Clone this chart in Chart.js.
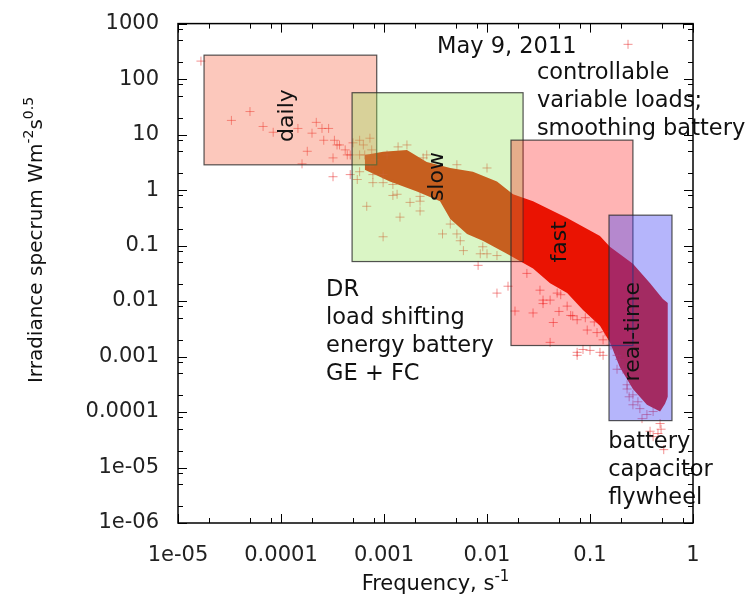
<!DOCTYPE html>
<html>
<head>
<meta charset="utf-8">
<script src="https://cdn.jsdelivr.net/npm/chart.js@4.4.0/dist/chart.umd.min.js"></script>
<style>
  html, body { margin: 0; padding: 0; background: #fff; }
</style>
</head>
<body>
<canvas id="chart" width="754" height="608"></canvas>
<script>
// axis ticks
const xTicks = [1e-5, 1e-4, 1e-3, 1e-2, 1e-1, 1];
const xTickLabels = ['1e-05', '0.0001', '0.001', '0.01', '0.1', '1'];
const yTicks = [1e-6, 1e-5, 1e-4, 1e-3, 1e-2, 1e-1, 1, 10, 100, 1000];
const yTickLabels = ['1e-06', '1e-05', '0.0001', '0.001', '0.01', '0.1', '1', '10', '100', '1000'];
const minorSteps = [2, 5, 8];

// loose points
const scatterX = [
  1.67e-5, 3.3e-5, 5.0e-5, 6.7e-5, 8.4e-5, 1.46e-4, 1.6e-4, 1.8e-4, 2.0e-4, 2.2e-4,
  2.5e-4, 2.6e-4, 2.9e-4, 3.2e-4, 3.2e-4, 3.3e-4, 3.5e-4, 3.7e-4, 4.2e-4, 4.4e-4,
  4.7e-4, 5.0e-4,
  4.7e-4, 5.5e-4, 5.8e-4, 6.3e-4, 6.5e-4, 6.8e-4, 7.3e-4, 7.3e-4, 7.6e-4, 7.8e-4,
  8.2e-4, 9.8e-4, 9.8e-4, 1.07e-3, 1.22e-3, 1.22e-3, 1.37e-3, 1.43e-3, 1.79e-3, 2.24e-3,
  2.24e-3, 2.6e-3, 3.7e-3, 4.4e-3, 5.1e-3, 5.5e-3, 5.9e-3, 8.2e-3, 8.6e-3, 0.01, 0.0125,
  5.8e-4, 5.8e-4, 7.8e-4, 9.8e-4, 1.34e-3, 2.24e-3, 1.67e-3, 2.4e-3, 5.1e-3, 9.1e-3,
  0.01, 0.0125,
  0.016, 0.0187, 0.0244, 0.028, 0.0327, 0.041, 0.041, 0.044, 0.060, 0.075,
  0.075, 0.094, 0.1, 0.0855, 0.125, 0.134, 0.035, 0.05, 0.065, 0.09,
  0.11, 0.14, 0.16, 0.052, 0.035, 0.048, 0.068, 0.075, 0.117, 0.134,
  0.183, 0.209,
  0.183, 0.195, 0.229, 0.24, 0.261, 0.292, 0.32, 0.383, 0.41, 0.457,
  0.479, 0.49, 0.52, 0.229, 0.261, 0.305, 0.357, 0.41
];
const scatterY = [
  211, 18, 26, 14, 11, 12.9, 2.97, 5.0, 10.6, 16.6,
  12.9, 7.9, 12.9, 1.74, 3.8, 7.9, 6.5, 6.5, 5.3, 4.3,
  4.3, 7.1,
  1.9, 1.55, 7.9, 6.5, 4.3, 0.51, 8.6, 2.63, 5.3, 1.36,
  3.5, 0.144, 1.9, 4.3, 0.80, 1.26, 6.0, 0.325, 0.60, 0.42,
  0.63, 4.3, 0.162, 0.244, 2.86, 0.122, 0.081, 0.044, 0.071, 2.5, 0.0139,
  4.3, 2.14, 1.9, 1.36, 0.84, 0.77, 6.5, 3.8, 0.162, 0.095,
  0.071, 0.066,
  0.0185, 0.0066, 0.0315, 0.0061, 0.0157, 0.0104, 0.0018, 0.0041, 0.0081, 0.0046,
  0.00119, 0.0030, 0.00129, 0.00134, 0.00119, 0.0020, 0.009, 0.0065, 0.0055, 0.005,
  0.0042, 0.0028, 0.0016, 0.013, 0.0104, 0.0139, 0.0054, 0.00105, 0.0027, 0.00105,
  0.00105, 5.9e-4,
  5.9e-4, 8.9e-4, 3.1e-4, 1.88e-4, 1.35e-4, 1.53e-4, 7.6e-5, 4.5e-5, 3.6e-5, 4.1e-5,
  6.2e-5, 4.9e-5, 2.1e-5, 2.6e-4, 2.04e-4, 1.15e-4, 9.0e-5, 1.02e-4
];

// edges of the dense cloud
const upperX = [6.5e-4, 9.8e-4, 1.67e-3, 2.6e-3, 4.4e-3, 7.3e-3, 0.0125, 0.0179, 0.028,
  0.060, 0.125, 0.156, 0.261, 0.383, 0.51, 0.57];
const upperY = [4.3, 4.9, 5.3, 3.2, 2.5, 2.14, 1.42, 0.84, 0.63,
  0.313, 0.149, 0.095, 0.047, 0.0209, 0.0109, 0.0092];
const lowerX = [6.5e-4, 1.14e-3, 2.09e-3, 3.5e-3, 4.4e-3, 6.4e-3, 9.1e-3, 0.0156, 0.028,
  0.041, 0.060, 0.0855, 0.125, 0.156, 0.195, 0.261, 0.357, 0.479, 0.535, 0.57];
const lowerY = [2.33, 1.42, 0.94, 0.63, 0.30, 0.162, 0.122, 0.071, 0.0386,
  0.0209, 0.0139, 0.0069, 0.0036, 0.0018, 6.4e-4, 2.6e-4, 1.35e-4, 1.02e-4, 1.41e-4, 1.88e-4];

// key sample
const keyX = [0.234];
const keyY = [423];

// shaded regions
const boxNames = ['daily', 'slow', 'fast', 'real-time'];
const boxX0 = [1.79e-5, 4.9e-4, 0.0171, 0.153];
const boxX1 = [8.5e-4, 0.0224, 0.261, 0.625];
const boxY0 = [2.85, 0.0515, 0.00158, 7.0e-5];
const boxY1 = [270, 56.8, 7.94, 0.353];
const boxFill = ['rgba(246,98,64,0.35)', 'rgba(150,225,90,0.35)', 'rgba(255,5,5,0.3)', 'rgba(70,70,245,0.4)'];
const boxLabelX = [1.14e-4, 3.3e-3, 0.051, 0.261];
const boxLabelY = [22, 1.75, 0.117, 0.0028];

// text notes
const notes = [
  ['May 9, 2011'],
  ['controllable', 'variable loads;', 'smoothing battery'],
  ['DR', 'load shifting', 'energy battery', 'GE + FC'],
  ['battery', 'capacitor', 'flywheel']
];
const noteX = [3.27e-3, 0.0305, 2.74e-4, 0.15];
const noteY = [292, 101, 0.0123, 2.23e-5];

const FONT = '"DejaVu Sans", sans-serif';

function toPoints(xs, ys) {
  return xs.map((v, i) => ({ x: v, y: ys[i] }));
}

function drawSupText(ctx, parts, x, y, size) {
  // parts: [text, isSup]
  let cx = x;
  parts.forEach(([t, sup]) => {
    ctx.font = sup ? `${Math.round(size * 0.7)}px ${FONT}` : `${size}px ${FONT}`;
    ctx.fillText(t, cx, sup ? y - size * 0.45 : y);
    cx += ctx.measureText(t).width;
  });
  return cx - x;
}

function measureSup(ctx, parts, size) {
  let w = 0;
  parts.forEach(([t, sup]) => {
    ctx.font = sup ? `${Math.round(size * 0.7)}px ${FONT}` : `${size}px ${FONT}`;
    w += ctx.measureText(t).width;
  });
  return w;
}

const overlayPlugin = {
  id: 'overlay',
  afterDatasetsDraw(chart) {
    const { ctx, scales: { x, y } } = chart;
    ctx.save();
    boxNames.forEach((name, i) => {
      const l = x.getPixelForValue(boxX0[i]);
      const r = x.getPixelForValue(boxX1[i]);
      const t = y.getPixelForValue(boxY1[i]);
      const b = y.getPixelForValue(boxY0[i]);
      ctx.fillStyle = boxFill[i];
      ctx.fillRect(l, t, r - l, b - t);
      ctx.strokeStyle = 'rgba(40,40,40,0.8)';
      ctx.lineWidth = 1.2;
      ctx.strokeRect(l, t, r - l, b - t);
    });
    ctx.fillStyle = '#111';
    ctx.font = `22px ${FONT}`;
    ctx.textAlign = 'center';
    ctx.textBaseline = 'middle';
    boxNames.forEach((name, i) => {
      ctx.save();
      ctx.translate(x.getPixelForValue(boxLabelX[i]), y.getPixelForValue(boxLabelY[i]));
      ctx.rotate(-Math.PI / 2);
      ctx.fillText(name, 0, 0);
      ctx.restore();
    });
    ctx.restore();
  },
  afterDraw(chart) {
    const { ctx, chartArea: a, scales: { x, y } } = chart;
    ctx.save();
    // notes
    ctx.fillStyle = '#111';
    ctx.font = `22.5px ${FONT}`;
    ctx.textAlign = 'left';
    ctx.textBaseline = 'alphabetic';
    notes.forEach((lines, i) => {
      const px = x.getPixelForValue(noteX[i]);
      const py = y.getPixelForValue(noteY[i]);
      lines.forEach((s, k) => ctx.fillText(s, px, py + k * 28));
    });

    // ticks, inward on all sides
    ctx.strokeStyle = '#000';
    ctx.lineWidth = 1;
    const tick = (px, len, horiz) => {
      ctx.beginPath();
      if (horiz) {
        ctx.moveTo(px, a.bottom); ctx.lineTo(px, a.bottom - len);
        ctx.moveTo(px, a.top); ctx.lineTo(px, a.top + len);
      } else {
        ctx.moveTo(a.left, px); ctx.lineTo(a.left + len, px);
        ctx.moveTo(a.right, px); ctx.lineTo(a.right - len, px);
      }
      ctx.stroke();
    };
    xTicks.forEach((v, i) => {
      tick(Math.round(x.getPixelForValue(v)) + 0.5, 9, true);
      if (i < xTicks.length - 1) {
        minorSteps.forEach((m) => tick(Math.round(x.getPixelForValue(v * m)) + 0.5, 5, true));
      }
    });
    yTicks.forEach((v, i) => {
      tick(Math.round(y.getPixelForValue(v)) + 0.5, 9, false);
      if (i < yTicks.length - 1) {
        minorSteps.forEach((m) => tick(Math.round(y.getPixelForValue(v * m)) + 0.5, 5, false));
      }
    });

    // border
    ctx.lineWidth = 1.5;
    ctx.strokeRect(a.left, a.top, a.right - a.left, a.bottom - a.top);

    // axis titles
    ctx.fillStyle = '#111';
    const xt = [['Frequency, s', false], ['-1', true]];
    const wx = measureSup(ctx, xt, 21);
    drawSupText(ctx, xt, (a.left + a.right) / 2 - wx / 2, 590, 21);

    const yt = [['Irradiance specrum Wm', false], ['-2', true], ['s', false], ['0.5', true]];
    const wy = measureSup(ctx, yt, 20);
    ctx.translate(42, 240 + wy / 2);
    ctx.rotate(-Math.PI / 2);
    drawSupText(ctx, yt, 0, 0, 20);
    ctx.restore();
  }
};

const crossStyle = {
  pointStyle: 'cross',
  pointRadius: 4.5,
  pointBorderWidth: 1,
  pointBorderColor: 'rgba(232,35,35,0.5)',
  pointBackgroundColor: 'rgba(232,35,35,0.5)',
  showLine: false
};

new Chart(document.getElementById('chart'), {
  type: 'line',
  data: {
    datasets: [
      Object.assign({ label: 'key', data: toPoints(keyX, keyY) }, crossStyle),
      Object.assign({ label: 'spectrum', data: toPoints(scatterX, scatterY) }, crossStyle),
      {
        label: 'upper',
        data: toPoints(upperX, upperY),
        showLine: true,
        borderWidth: 0,
        borderColor: 'rgba(0,0,0,0)',
        pointRadius: 0,
        fill: false,
        tension: 0
      },
      {
        label: 'lower',
        data: toPoints(lowerX, lowerY),
        showLine: true,
        borderWidth: 0,
        borderColor: 'rgba(0,0,0,0)',
        backgroundColor: 'rgb(225,25,0)',
        pointRadius: 0,
        fill: '-1',
        tension: 0
      }
    ]
  },
  options: {
    responsive: false,
    animation: false,
    devicePixelRatio: 1,
    layout: { padding: { left: 0, top: 17, right: 61, bottom: 0 } },
    plugins: {
      legend: { display: false },
      tooltip: { enabled: false }
    },
    scales: {
      x: {
        type: 'logarithmic',
        min: 1e-5,
        max: 1,
        grid: { display: false },
        border: { display: false },
        afterBuildTicks: (s) => { s.ticks = xTicks.map((v) => ({ value: v })); },
        afterFit: (s) => { s.height = 85; },
        ticks: {
          autoSkip: false,
          maxRotation: 0,
          padding: 12,
          color: '#222',
          font: { family: FONT, size: 21 },
          callback: (v) => { const i = xTicks.indexOf(v); return i >= 0 ? xTickLabels[i] : ''; }
        }
      },
      y: {
        type: 'logarithmic',
        min: 1e-6,
        max: 1000,
        grid: { display: false },
        border: { display: false },
        afterBuildTicks: (s) => { s.ticks = yTicks.map((v) => ({ value: v })); },
        afterFit: (s) => { s.width = 178; },
        ticks: {
          autoSkip: false,
          padding: 11,
          color: '#222',
          font: { family: FONT, size: 21 },
          callback: (v) => { const i = yTicks.indexOf(v); return i >= 0 ? yTickLabels[i] : ''; }
        }
      }
    }
  },
  plugins: [overlayPlugin]
});
</script>
</body>
</html>
